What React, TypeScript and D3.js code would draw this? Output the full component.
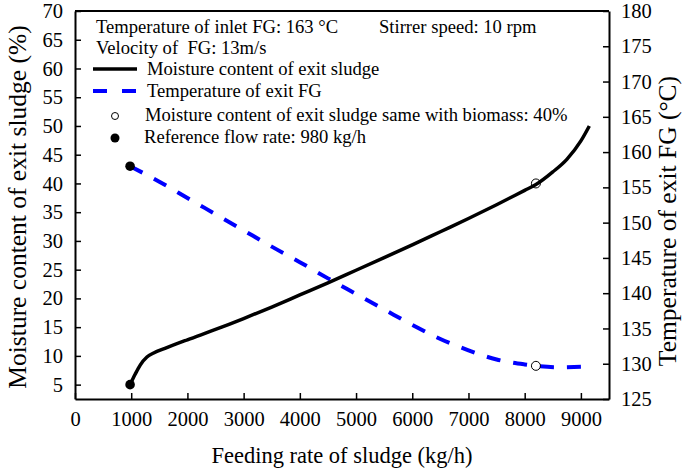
import React, { useRef, useEffect } from "react";
import * as d3 from "d3";

// feeding rate of sludge (kg/h) vs moisture content of exit sludge (%)
const moistureRate = [980, 1070, 1160, 1280, 1400, 1600, 2000, 2500, 3000, 3500, 4000, 4500, 5000, 5500, 6000, 6500, 7000, 7500, 8000, 8200, 8500, 8750, 9000, 9150];
const moistureValues = [5, 6.8, 8.4, 9.8, 10.5, 11.3, 12.8, 14.6, 16.5, 18.5, 20.6, 22.7, 24.9, 27.1, 29.3, 31.6, 33.9, 36.3, 38.8, 39.8, 42.0, 44.2, 47.4, 50];

// feeding rate vs temperature of exit FG (°C)
const tempRate = [980, 1500, 2000, 2500, 3000, 3500, 4000, 4500, 5000, 5500, 6000, 6500, 7000, 7500, 8000, 8200, 8600, 9150];
const tempValues = [158, 155.8, 153.5, 151.2, 148.9, 146.6, 144.4, 142.1, 139.9, 137.7, 135.5, 133.5, 131.9, 130.6, 129.9, 129.7, 129.5, 129.6];

const referenceRate = 980;
const biomassRate = 8200;
const biomassMoisture = 40;
const biomassTemp = 129.7;

const xTicks = [0, 1000, 2000, 3000, 4000, 5000, 6000, 7000, 8000, 9000];
const leftTicks = [5, 10, 15, 20, 25, 30, 35, 40, 45, 50, 55, 60, 65, 70];
const rightTicks = [125, 130, 135, 140, 145, 150, 155, 160, 165, 170, 175, 180];

const width = 685;
const height = 470;
const margin = { top: 11, right: 76, bottom: 71, left: 75 };
const font = "'Liberation Serif', 'Times New Roman', serif";

export default function App() {
  const axesRef = useRef<SVGGElement>(null);

  const x = d3.scaleLinear().domain([0, 9500]).range([margin.left, width - margin.right]);
  const yL = d3.scaleLinear().domain([2.5, 70]).range([height - margin.bottom, margin.top]);
  const yR = d3.scaleLinear().domain([125, 180]).range([height - margin.bottom, margin.top]);

  const moistureLine = d3
    .line<number>()
    .x((d, i) => x(moistureRate[i]))
    .y((d) => yL(d))
    .curve(d3.curveMonotoneX);

  const tempLine = d3
    .line<number>()
    .x((d, i) => x(tempRate[i]))
    .y((d) => yR(d))
    .curve(d3.curveMonotoneX);

  useEffect(() => {
    if (!axesRef.current) return;
    const g = d3.select(axesRef.current);
    g.selectAll("*").remove();

    const bottom = g
      .append("g")
      .attr("transform", `translate(0,${height - margin.bottom})`)
      .call(d3.axisBottom(x).tickValues(xTicks).tickFormat(d3.format("d")).tickSizeInner(-6).tickSizeOuter(0).tickPadding(12));
    const left = g
      .append("g")
      .attr("transform", `translate(${margin.left},0)`)
      .call(d3.axisLeft(yL).tickValues(leftTicks).tickSizeInner(-6).tickSizeOuter(0).tickPadding(12));
    const right = g
      .append("g")
      .attr("transform", `translate(${width - margin.right},0)`)
      .call(d3.axisRight(yR).tickValues(rightTicks).tickSizeInner(-6).tickSizeOuter(0).tickPadding(12));

    [bottom, left, right].forEach((a) => {
      a.selectAll("path").attr("stroke", "#000").attr("stroke-width", 2);
      a.selectAll("line").attr("stroke", "#000").attr("stroke-width", 1.5);
      a.selectAll("text").attr("font-family", font).attr("font-size", 20.5).attr("fill", "#000");
    });
  }, []);

  return (
    <svg width={width} height={height} style={{ position: "absolute", left: 0, top: 0, background: "#fff" }}>
      <rect x={0} y={0} width={width} height={height} fill="#fff" />
      <line x1={margin.left} x2={width - margin.right} y1={margin.top} y2={margin.top} stroke="#000" strokeWidth={2} />
      <g ref={axesRef} />

      <path d={tempLine(tempValues) || ""} fill="none" stroke="#0000ff" strokeWidth={4} strokeDasharray="14,13" />
      <path d={moistureLine(moistureValues) || ""} fill="none" stroke="#000" strokeWidth={3.5} />

      <circle cx={x(referenceRate)} cy={yL(moistureValues[0])} r={4.8} fill="#000" />
      <circle cx={x(referenceRate)} cy={yR(tempValues[0])} r={4.8} fill="#000" />
      <circle cx={x(biomassRate)} cy={yL(biomassMoisture)} r={4.5} fill="none" stroke="#000" strokeWidth={1} />
      <circle cx={x(biomassRate)} cy={yR(biomassTemp)} r={4.5} fill="none" stroke="#000" strokeWidth={1} />

      <g fontFamily={font} fontSize={18.6} fill="#000">
        <text x={96} y={33}>Temperature of inlet FG: 163 °C</text>
        <text x={379} y={33}>Stirrer speed: 10 rpm</text>
        <text x={96} y={54}>{"Velocity of\u00a0 FG: 13m/s"}</text>
        <line x1={93} x2={137} y1={69} y2={69} stroke="#000" strokeWidth={3.5} />
        <text x={147} y={75}>Moisture content of exit sludge</text>
        <line x1={93} x2={137} y1={91} y2={91} stroke="#0000ff" strokeWidth={4} strokeDasharray="14,15" />
        <text x={147} y={97}>Temperature of exit FG</text>
        <circle cx={115} cy={116} r={3.5} fill="none" stroke="#000" strokeWidth={1} />
        <text x={145} y={121}>Moisture content of exit sludge same with biomass: 40%</text>
        <circle cx={115} cy={138} r={4.5} fill="#000" />
        <text x={144} y={143}>Reference flow rate: 980 kg/h</text>
      </g>

      <text x={(margin.left + width - margin.right) / 2} y={463} textAnchor="middle" fontFamily={font} fontSize={22.5}>
        Feeding rate of sludge (kg/h)
      </text>
      <text transform={`translate(26,${(margin.top + height - margin.bottom) / 2 + 2}) rotate(-90)`} textAnchor="middle" fontFamily={font} fontSize={25.5}>
        Moisture content of exit sludge (%)
      </text>
      <text transform={`translate(676,${(margin.top + height - margin.bottom) / 2 + 16}) rotate(-90)`} textAnchor="middle" fontFamily={font} fontSize={25.5}>
        Temperature of exit FG (°C)
      </text>
    </svg>
  );
}
